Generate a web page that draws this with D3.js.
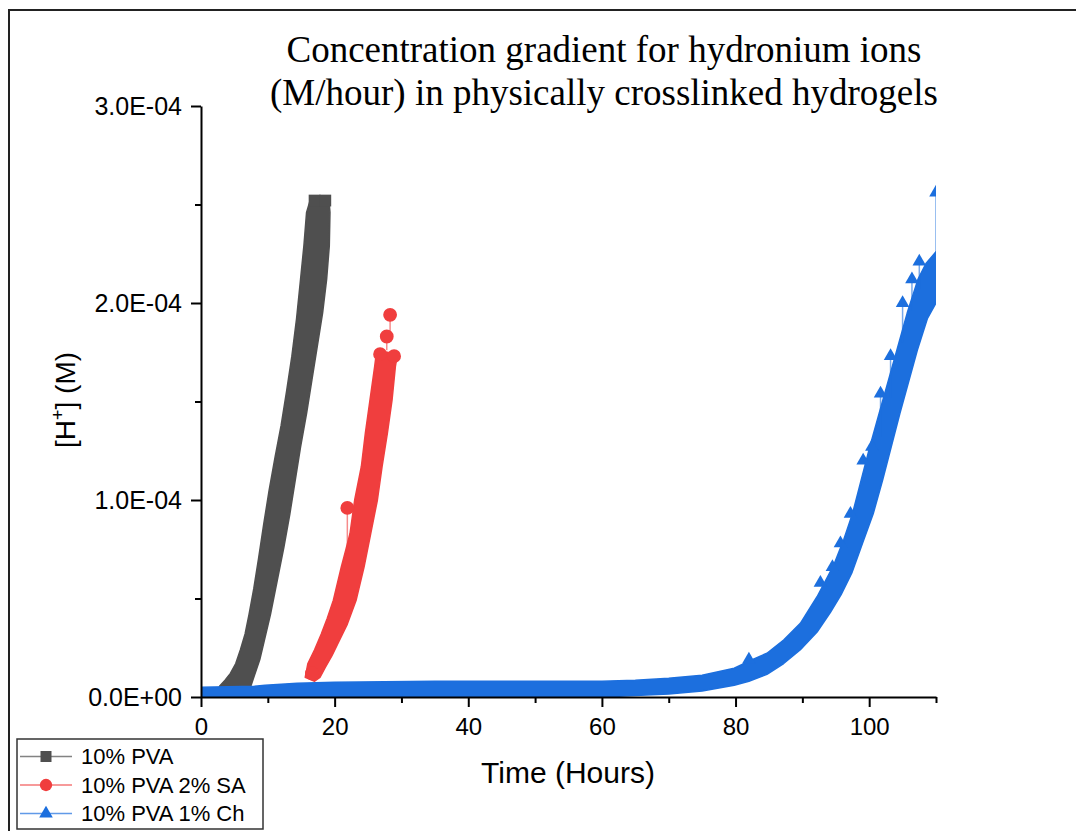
<!DOCTYPE html>
<html lang="en">
<head>
<meta charset="UTF-8">
<title>Concentration gradient for hydronium ions</title>
<script src="https://cdn.jsdelivr.net/npm/d3@7"></script>
<style>
    body { margin: 0; background: #fff; }
    svg { display: block; }
    .axis text { font-family: "Liberation Sans", Arial, sans-serif; fill: #000; }
    .axis path, .axis line { stroke: #000; stroke-width: 2px; }
</style>
</head>
<body>
<script>
    // each series is a dense cloud of markers; read as its left/upper edge and right/lower edge
    // pairs are [time (hours), [H+] (M)]
    var grayUpper = [[2.2,0.0e-4],[2.8,0.056e-4],[3.6,0.085e-4],[4.4,0.12e-4],[5.2,0.17e-4],[5.9,0.24e-4],
        [6.6,0.32e-4],[7.2,0.42e-4],[7.9,0.55e-4],[8.6,0.70e-4],[9.4,0.88e-4],[10.2,1.05e-4],[11.1,1.22e-4],
        [12.0,1.38e-4],[12.8,1.55e-4],[13.6,1.73e-4],[14.3,1.92e-4],[14.9,2.12e-4],[15.4,2.29e-4],
        [15.8,2.46e-4],[16.5,2.54e-4]];
    var grayLower = [[19.1,2.54e-4],[19.3,2.46e-4],[19.2,2.29e-4],[18.8,2.12e-4],[18.2,1.95e-4],[17.4,1.78e-4],
        [16.6,1.61e-4],[15.8,1.44e-4],[14.9,1.27e-4],[14.1,1.10e-4],[13.3,0.93e-4],[12.4,0.76e-4],[11.4,0.59e-4],
        [10.4,0.42e-4],[9.5,0.29e-4],[8.8,0.19e-4],[8.0,0.11e-4],[7.5,0.06e-4],[7.0,0.0e-4]];

    var redUpper = [[15.6,0.10e-4],[16.0,0.17e-4],[17.0,0.24e-4],[18.0,0.32e-4],[18.9,0.40e-4],[19.8,0.49e-4],
        [21.0,0.66e-4],[21.7,0.75e-4],[22.3,0.83e-4],[23.0,1.0e-4],[24.0,1.17e-4],[24.6,1.34e-4],[25.3,1.51e-4],
        [26.0,1.68e-4],[26.3,1.76e-4]];
    var redLower = [[29.4,1.74e-4],[29.1,1.68e-4],[28.6,1.51e-4],[27.9,1.34e-4],[27.1,1.17e-4],[26.4,1.0e-4],
        [25.4,0.83e-4],[24.4,0.66e-4],[23.2,0.49e-4],[21.9,0.37e-4],[20.6,0.28e-4],[19.6,0.21e-4],[18.6,0.15e-4],
        [17.8,0.10e-4],[17.0,0.08e-4]];

    var blueUpper = [[0,0.05e-4],[8,0.055e-4],[9.6,0.06e-4],[14.4,0.07e-4],[20,0.075e-4],[35,0.08e-4],[50,0.08e-4],
        [60,0.08e-4],[65,0.085e-4],[70,0.095e-4],[75,0.11e-4],[79.8,0.146e-4],[82.5,0.19e-4],[84.7,0.222e-4],
        [87.2,0.289e-4],[89.7,0.374e-4],[92.2,0.509e-4],[94.7,0.67e-4],[96.2,0.80e-4],[97.5,0.93e-4],
        [98.8,1.10e-4],[100.1,1.27e-4],[101.5,1.44e-4],[102.9,1.61e-4],[104.3,1.78e-4],[105.7,1.95e-4],
        [107.3,2.12e-4],[108.5,2.20e-4],[110,2.26e-4]];
    var blueLower = [[110,2.0e-4],[108.7,1.92e-4],[107.2,1.76e-4],[105.9,1.60e-4],[104.6,1.44e-4],[103.3,1.27e-4],
        [102.0,1.10e-4],[100.6,0.93e-4],[99.0,0.78e-4],[97.4,0.63e-4],[95.8,0.52e-4],[94.2,0.43e-4],[92.2,0.33e-4],
        [89.7,0.24e-4],[87.2,0.17e-4],[84.7,0.115e-4],[82,0.08e-4],[79.8,0.06e-4],[75,0.03e-4],[70,0.015e-4],
        [60,0.0],[0,0.0]];

    // single points sticking out of the clouds, with the value they are joined to
    var grayPoints = [[17.0,2.52e-4,2.52e-4],[18.6,2.52e-4,2.52e-4]];
    var redPoints = [[16.6,0.12e-4,0.12e-4],[21.9,0.96e-4,0.72e-4],[26.8,1.74e-4,1.74e-4],[28.9,1.73e-4,1.73e-4],
        [27.8,1.83e-4,1.76e-4],[28.3,1.94e-4,1.83e-4]];
    var bluePoints = [[110,2.56e-4,2.1e-4],[107.5,2.21e-4,2.07e-4],[106.4,2.12e-4,1.96e-4],[105.0,2.00e-4,1.80e-4],
        [103.2,1.73e-4,1.52e-4],[101.7,1.54e-4,1.32e-4],[100.4,1.27e-4,1.27e-4],[99.1,1.20e-4,1.20e-4],
        [97.2,0.93e-4,0.93e-4],[95.7,0.78e-4,0.78e-4],[94.5,0.66e-4,0.66e-4],[92.7,0.58e-4,0.58e-4],[82.0,0.19e-4,0.19e-4]];

    var seriesNames = ["10% PVA", "10% PVA 2% SA", "10% PVA 1% Ch"];
    var seriesColors = ["#4f4f4f", "#f03e3e", "#1c6fde"];

    var xMajor = [0, 20, 40, 60, 80, 100];
    var xMinor = [10, 30, 50, 70, 90, 110];
    var yMajor = [0, 1e-4, 2e-4, 3e-4];
    var yMinor = [0.5e-4, 1.5e-4, 2.5e-4];
    var yTickLabels = ["0.0E+00", "1.0E-04", "2.0E-04", "3.0E-04"];

    var width = 1076, height = 831;
    var svg = d3.select("body").append("svg")
        .attr("width", width)
        .attr("height", height);

    var x = d3.scaleLinear().domain([0, 110]).range([201, 936]);
    var y = d3.scaleLinear().domain([0, 3e-4]).range([697, 106]);

    // outer frame
    svg.append("path")
        .attr("d", "M9,831V10H1076")
        .attr("fill", "none")
        .attr("stroke", "#222")
        .attr("stroke-width", 2);

    // title
    var title = svg.append("text")
        .attr("text-anchor", "middle")
        .attr("font-family", "'Liberation Serif', 'Times New Roman', serif")
        .attr("font-size", "37px")
        .attr("fill", "#000");
    title.append("tspan").attr("x", 604).attr("y", 62).text("Concentration gradient for hydronium ions");
    title.append("tspan").attr("x", 604).attr("y", 105).text("(M/hour) in physically crosslinked hydrogels");

    svg.append("clipPath").attr("id", "plotclip")
        .append("rect").attr("x", 201).attr("y", 0).attr("width", 735).attr("height", 697);

    var plot = svg.append("g").attr("clip-path", "url(#plotclip)");
    var band = d3.line().x(d => x(d[0])).y(d => y(d[1]));

    var bands = [[grayUpper, grayLower], [redUpper, redLower], [blueUpper, blueLower]];
    var points = [grayPoints, redPoints, bluePoints];
    var symbols = [d3.symbolSquare, d3.symbolCircle, d3.symbolTriangle];
    var symSize = [140, 150, 80];

    bands.forEach(function (b, i) {
        var g = plot.append("g");
        g.append("path")
            .attr("d", band(b[0].concat(b[1])) + "Z")
            .attr("fill", seriesColors[i])
            .attr("stroke", seriesColors[i])
            .attr("stroke-width", 1.5)
            .attr("stroke-linejoin", "round");
        g.selectAll(".stem")
            .data(points[i])
            .enter()
            .append("line")
            .attr("x1", d => x(d[0])).attr("x2", d => x(d[0]))
            .attr("y1", d => y(d[1])).attr("y2", d => y(d[2]))
            .attr("stroke", seriesColors[i])
            .attr("stroke-opacity", 0.6)
            .attr("stroke-width", 1.5);
        g.selectAll(".pt")
            .data(points[i])
            .enter()
            .append("path")
            .attr("d", d3.symbol().type(symbols[i]).size(symSize[i]))
            .attr("transform", d => `translate(${x(d[0])},${y(d[1])})`)
            .attr("fill", seriesColors[i]);
    });

    // axes
    var xAxis = svg.append("g").attr("class", "axis").attr("transform", "translate(0,697)");
    xAxis.call(d3.axisBottom(x).tickValues(xMajor).tickSize(10).tickSizeOuter(0).tickPadding(11));
    xAxis.selectAll("text").attr("font-size", "24px");
    svg.append("g").attr("class", "axis").attr("transform", "translate(0,697)")
        .call(d3.axisBottom(x).tickValues(xMinor).tickSize(6).tickSizeOuter(0).tickFormat(""))
        .select(".domain").remove();

    var yAxis = svg.append("g").attr("class", "axis").attr("transform", "translate(201,0)");
    yAxis.call(d3.axisLeft(y).tickValues(yMajor).tickSize(10).tickSizeOuter(0).tickPadding(9)
        .tickFormat((d, i) => yTickLabels[i]));
    yAxis.selectAll("text").attr("font-size", "25px");
    svg.append("g").attr("class", "axis").attr("transform", "translate(201,0)")
        .call(d3.axisLeft(y).tickValues(yMinor).tickSize(6).tickSizeOuter(0).tickFormat(""))
        .select(".domain").remove();

    // axis titles
    svg.append("text")
        .attr("x", 568).attr("y", 783)
        .attr("text-anchor", "middle")
        .attr("font-family", "'Liberation Sans', Arial, sans-serif")
        .attr("font-size", "30px")
        .text("Time (Hours)");

    var yTitle = svg.append("text")
        .attr("transform", "translate(75,400) rotate(-90)")
        .attr("text-anchor", "middle")
        .attr("font-family", "'Liberation Sans', Arial, sans-serif")
        .attr("font-size", "28px");
    yTitle.append("tspan").text("[H");
    yTitle.append("tspan").attr("font-size", "18px").attr("dy", -11).text("+");
    yTitle.append("tspan").attr("dy", 11).text("] (M)");

    // legend
    var legend = svg.append("g");
    legend.append("rect")
        .attr("x", 17).attr("y", 739).attr("width", 246).attr("height", 90)
        .attr("fill", "#fff").attr("stroke", "#333").attr("stroke-width", 1.5);
    var rows = legend.selectAll(".row")
        .data(seriesNames)
        .enter()
        .append("g")
        .attr("transform", (d, i) => `translate(0,${756.5 + i * 28.5})`);
    rows.append("line")
        .attr("x1", 20).attr("x2", 72)
        .attr("stroke", (d, i) => seriesColors[i])
        .attr("stroke-opacity", 0.7)
        .attr("stroke-width", 1.5);
    rows.append("path")
        .attr("d", (d, i) => d3.symbol().type(symbols[i]).size([121, 120, 80][i])())
        .attr("transform", "translate(46,0)")
        .attr("fill", (d, i) => seriesColors[i]);
    rows.append("text")
        .attr("x", 81).attr("dy", "0.35em")
        .attr("font-family", "'Liberation Sans', Arial, sans-serif")
        .attr("font-size", "22px")
        .text(d => d);
</script>
</body>
</html>
